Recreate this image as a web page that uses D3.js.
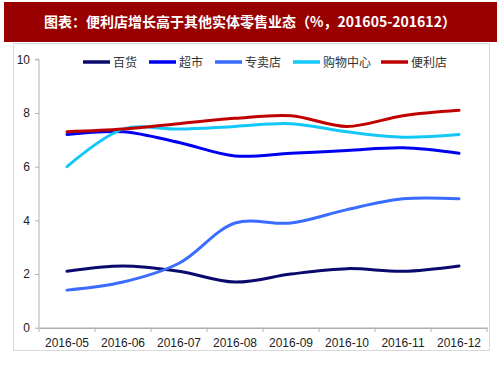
<!DOCTYPE html>
<html><head><meta charset="utf-8">
<script src="https://cdn.jsdelivr.net/npm/d3@7"></script>
<style>html,body{margin:0;padding:0;background:#fff;}svg{display:block;}</style>
</head><body>
<svg id="c" width="503" height="378"></svg>
<script>
const titleText = "图表：便利店增长高于其他实体零售业态（%，201605-201612）";
const categories = ["2016-05","2016-06","2016-07","2016-08","2016-09","2016-10","2016-11","2016-12"];
const seriesNames = ["百货","超市","专卖店","购物中心","便利店"];
const deptStore = [2.1,2.3,2.1,1.7,2.0,2.2,2.1,2.3];
const supermarket = [7.2,7.3,6.9,6.4,6.5,6.6,6.7,6.5];
const specialtyStore = [1.4,1.7,2.4,3.9,3.9,4.4,4.8,4.8];
const shoppingCenter = [6.0,7.4,7.4,7.5,7.6,7.3,7.1,7.2];
const convenience = [7.3,7.4,7.6,7.8,7.9,7.5,7.9,8.1];
const yTicks = [0,2,4,6,8,10];
const colors = ["#0a0a6e","#0000f0","#3a6cff","#12c8f8","#c00000"];
const seriesData = [deptStore, supermarket, specialtyStore, shoppingCenter, convenience];

const svg = d3.select("#c");
// title bar
svg.append("rect").attr("x",4).attr("y",2).attr("width",493).attr("height",40).attr("fill","#990000");
svg.append("text").attr("x",250).attr("y",27).attr("text-anchor","middle")
  .attr("fill","#fff").attr("font-family","'Noto Sans CJK SC'").attr("font-weight","bold")
  .attr("font-size","14px").text(titleText);
// chart frame
svg.append("rect").attr("x",13.5).attr("y",43.5).attr("width",476).attr("height",307)
  .attr("fill","#fff").attr("stroke","#d9d9d9");

const x = d3.scaleBand().domain(categories).range([39,487]);
const y = d3.scaleLinear().domain([0,10]).range([327.7,59.3]);

// y axis
const ya = svg.append("g").attr("transform","translate(39,0)")
  .call(d3.axisLeft(y).tickValues(yTicks).tickSize(4).tickPadding(5).tickFormat(d3.format("d")));
ya.select(".domain").attr("stroke","#b0b0b0").attr("d","M-4,59.3H0V327.7");
ya.selectAll(".tick line").attr("stroke","#b0b0b0");
ya.selectAll("text").attr("font-family","'Liberation Sans', Arial").attr("font-size","12px").attr("fill","#222");

// x axis
const xa = svg.append("g").attr("transform","translate(0,327.7)")
  .call(d3.axisBottom(x).tickSize(0).tickPadding(11));
xa.select(".domain").attr("stroke","#b0b0b0").attr("stroke-width",1.5);
xa.selectAll(".tick line").remove();
xa.selectAll("text").attr("font-family","'Liberation Sans', Arial").attr("font-size","12px").attr("fill","#222");
// boundary ticks
const bounds = categories.map(c => x(c)).concat([x.range()[1]]);
svg.append("g").selectAll("line").data(bounds).join("line")
  .attr("x1",d=>d).attr("x2",d=>d).attr("y1",327.7).attr("y2",332)
  .attr("stroke","#b0b0b0");

// lines
const line = d3.line()
  .x((d,i)=>x(categories[i]) + x.bandwidth()/2)
  .y(d=>y(d))
  .curve(d3.curveCatmullRom.alpha(0.5));
svg.append("g").selectAll("path").data(seriesData).join("path")
  .attr("d",d=>line(d)).attr("fill","none")
  .attr("stroke",(d,i)=>colors[i]).attr("stroke-width",3).attr("stroke-linecap","round");

// legend
const legendX = [83,149,215,293,381];
const lg = svg.append("g").selectAll("g").data(seriesNames).join("g")
  .attr("transform",(d,i)=>`translate(${legendX[i]},62)`);
lg.append("line").attr("x1",0).attr("x2",27).attr("y1",0).attr("y2",0)
  .attr("stroke",(d,i)=>colors[i]).attr("stroke-width",3.5);
lg.append("text").attr("x",30).attr("y",4.5)
  .attr("font-family","'Noto Sans CJK SC'").attr("font-size","12px").attr("fill","#333").text(d=>d);
</script>
</body></html>
